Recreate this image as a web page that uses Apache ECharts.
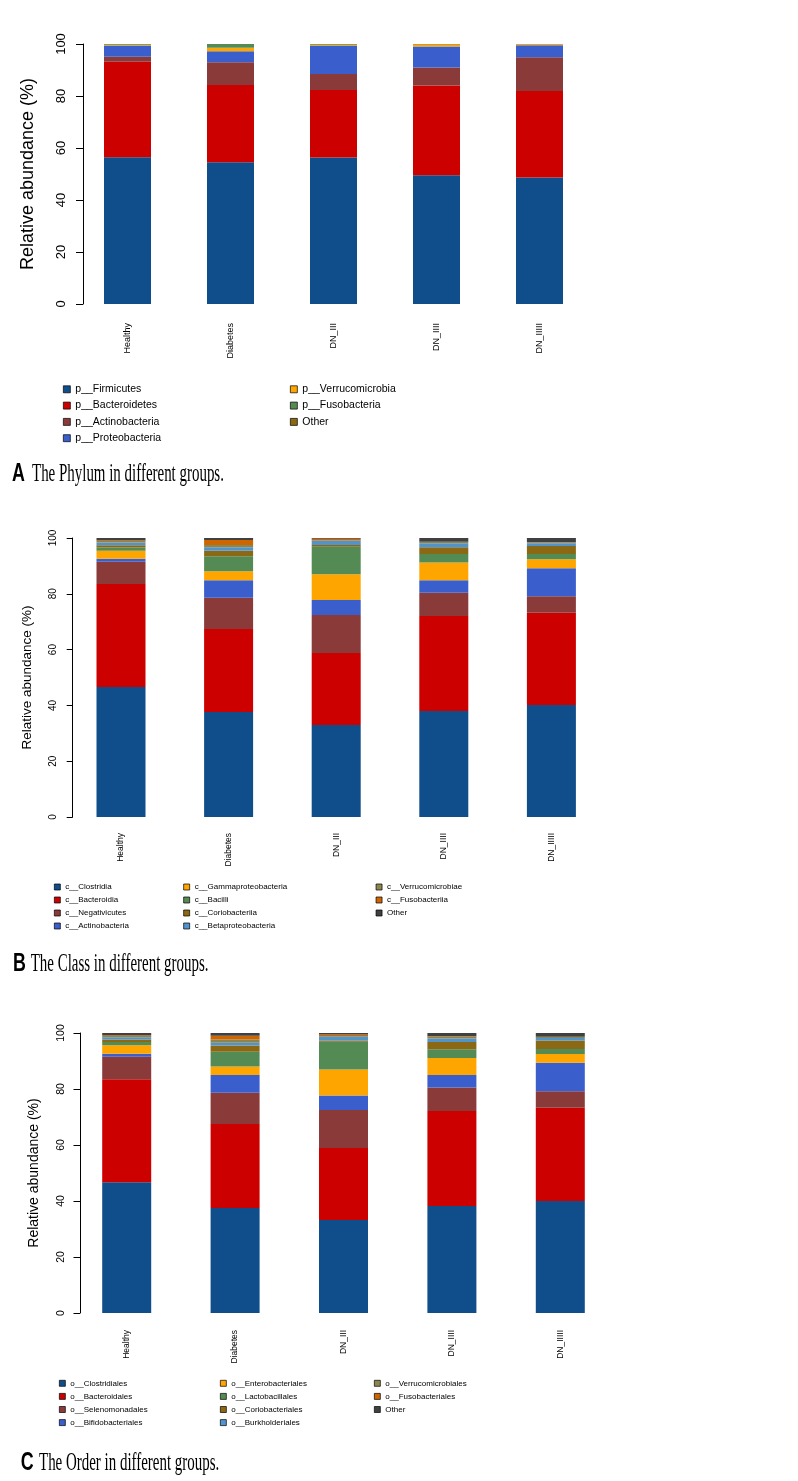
<!DOCTYPE html>
<html>
<head>
<meta charset="utf-8">
<script src="https://cdn.jsdelivr.net/npm/echarts@6/dist/echarts.min.js"></script>
<style>
html,body{margin:0;padding:0;background:#fff;}
#chart{width:798px;height:1481px;}
</style>
</head>
<body>
<div id="chart"></div>
<script>
// ---------- DATA ----------
const groups = ['Healthy', 'Diabetes', 'DN_III', 'DN_IIII', 'DN_IIIII'];
const yTicks = [0, 20, 40, 60, 80, 100];

// Panel A: Phylum
const phylumNames = ['p__Firmicutes', 'p__Bacteroidetes', 'p__Actinobacteria', 'p__Proteobacteria', 'p__Verrucomicrobia', 'p__Fusobacteria', 'Other'];
const pFirmicutes      = [56.4, 54.5, 56.3, 49.5, 48.7];
const pBacteroidetes   = [36.8, 29.7, 26.0, 34.5, 33.2];
const pActinobacteria  = [1.9, 8.8, 6.2, 7.0, 13.0];
const pProteobacteria  = [4.2, 4.2, 10.7, 8.0, 4.6];
const pVerrucomicrobia = [0.2, 1.4, 0.3, 0.8, 0.4];
const pFusobacteria    = [0.3, 1.4, 0.3, 0.0, 0.0];
const pOther           = [0.2, 0.0, 0.2, 0.2, 0.1];

// Panel B: Class
const classNames = ['c__Clostridia', 'c__Bacteroidia', 'c__Negativicutes', 'c__Actinobacteria', 'c__Gammaproteobacteria', 'c__Bacilli', 'c__Coriobacteriia', 'c__Betaproteobacteria', 'c__Verrucomicrobiae', 'c__Fusobacteriia', 'Other'];
const cClostridia        = [46.6, 37.6, 33.0, 38.0, 40.1];
const cBacteroidia       = [36.9, 29.8, 25.8, 34.0, 33.1];
const cNegativicutes     = [8.0, 11.2, 13.6, 8.4, 5.9];
const cActinobacteria    = [1.1, 6.3, 5.4, 4.5, 10.1];
const cGammaproteo       = [2.8, 3.2, 9.2, 6.3, 3.2];
const cBacilli           = [1.2, 5.4, 9.9, 3.1, 1.9];
const cCoriobacteriia    = [0.8, 1.9, 0.6, 2.4, 2.8];
const cBetaproteo        = [1.0, 1.3, 1.4, 1.4, 1.0];
const cVerrucomicrobiae  = [0.5, 0.8, 0.2, 0.5, 0.3];
const cFusobacteriia     = [0.3, 1.8, 0.6, 0.1, 0.1];
const cOther             = [0.8, 0.7, 0.3, 1.3, 1.5];

// Panel C: Order
const orderNames = ['o__Clostridiales', 'o__Bacteroidales', 'o__Selenomonadales', 'o__Bifidobacteriales', 'o__Enterobacteriales', 'o__Lactobacillales', 'o__Coriobacteriales', 'o__Burkholderiales', 'o__Verrucomicrobiales', 'o__Fusobacteriales', 'Other'];
const oClostridiales      = [46.7, 37.5, 33.2, 38.2, 40.0];
const oBacteroidales      = [36.8, 30.0, 25.7, 33.9, 33.3];
const oSelenomonadales    = [8.0, 11.2, 13.6, 8.4, 5.9];
const oBifidobacteriales  = [1.1, 6.3, 5.2, 4.5, 10.2];
const oEnterobacteriales  = [3.0, 3.0, 9.3, 6.1, 3.1];
const oLactobacillales    = [1.2, 5.3, 9.9, 3.1, 1.8];
const oCoriobacteriales   = [0.9, 2.2, 0.4, 2.6, 3.0];
const oBurkholderiales    = [0.8, 1.0, 1.4, 1.2, 0.9];
const oVerrucomicrobiales = [0.4, 1.2, 0.2, 0.7, 0.5];
const oFusobacteriales    = [0.3, 1.3, 0.6, 0.1, 0.0];
const oOther              = [0.8, 1.0, 0.5, 1.2, 1.3];

// ---------- STYLE ----------
const phylumColors = ['#104E8B', '#CD0000', '#8B3A3A', '#3A5FCD', '#FFA500', '#548B54', '#8B6914'];
const tenColors = ['#104E8B', '#CD0000', '#8B3A3A', '#3A5FCD', '#FFA500', '#548B54', '#8B6914', '#4F94CD', '#8B864E', '#CD6600', '#404040'];

const phylumData = [pFirmicutes, pBacteroidetes, pActinobacteria, pProteobacteria, pVerrucomicrobia, pFusobacteria, pOther];
const classData = [cClostridia, cBacteroidia, cNegativicutes, cActinobacteria, cGammaproteo, cBacilli, cCoriobacteriia, cBetaproteo, cVerrucomicrobiae, cFusobacteriia, cOther];
const orderData = [oClostridiales, oBacteroidales, oSelenomonadales, oBifidobacteriales, oEnterobacteriales, oLactobacillales, oCoriobacteriales, oBurkholderiales, oVerrucomicrobiales, oFusobacteriales, oOther];

// unique names per panel for "Other" (trailing spaces are invisible)
const uniq = (names, suffix) => names.map(n => n === 'Other' ? 'Other' + suffix : n);
const phylumSeriesNames = uniq(phylumNames, '');
const classSeriesNames = uniq(classNames, ' ');
const orderSeriesNames = uniq(orderNames, '  ');

const legendFont = "'Liberation Sans', Arial, Helvetica, sans-serif";
const axisFont = "'Liberation Sans', Arial, Helvetica, sans-serif";

const panels = [
  {names: phylumSeriesNames, data: phylumData, colors: phylumColors, grid: {left: 76, width: 515, top: 44, height: 260}, yOffset: -7, barWidth: 47,
   tickFs: 13, tickLen: 7, nameFs: 18, nameGap: 46, labelMargin: 15, xFs: 9, xMargin: 19},
  {names: classSeriesNames, data: classData, colors: tenColors, grid: {left: 67.2, width: 538, top: 538, height: 279}, yOffset: -5.5, barWidth: 49,
   tickFs: 10, tickLen: 6, nameFs: 13.5, nameGap: 38, labelMargin: 14, xFs: 8.5, xMargin: 16},
  {names: orderSeriesNames, data: orderData, colors: tenColors, grid: {left: 72.5, width: 542, top: 1033, height: 280}, yOffset: -7.5, barWidth: 49,
   tickFs: 10.5, tickLen: 6.5, nameFs: 14, nameGap: 39, labelMargin: 13, xFs: 8.5, xMargin: 17}
];

const grids = [], xAxes = [], yAxes = [], series = [];
panels.forEach((p, i) => {
  grids.push(Object.assign({containLabel: false}, p.grid));
  xAxes.push({
    type: 'category', gridIndex: i, data: groups,
    axisLine: {show: false}, axisTick: {show: false},
    axisLabel: {rotate: 90, fontSize: p.xFs, color: '#000', fontFamily: axisFont, margin: p.xMargin, interval: 0}
  });
  yAxes.push({
    type: 'value', gridIndex: i, min: yTicks[0], max: yTicks[yTicks.length - 1], interval: 20,
    offset: p.yOffset,
    name: 'Relative abundance (%)', nameLocation: 'middle', nameRotate: 90, nameGap: p.nameGap,
    nameTextStyle: {fontSize: p.nameFs, color: '#000', fontFamily: axisFont},
    axisLine: {show: true, lineStyle: {color: '#000', width: 1}},
    axisTick: {show: true, length: p.tickLen, lineStyle: {color: '#000', width: 1}},
    axisLabel: {rotate: 90, fontSize: p.tickFs, color: '#000', fontFamily: axisFont, margin: p.labelMargin},
    splitLine: {show: false}
  });
  p.names.forEach((n, k) => {
    series.push({
      name: n, type: 'bar', stack: 'panel' + i, xAxisIndex: i, yAxisIndex: i,
      barWidth: p.barWidth, data: p.data[k],
      itemStyle: {color: p.colors[k]},
      emphasis: {disabled: true}, animation: false
    });
  });
});

function mkLegend(data, left, top, size, fs, lh, gap) {
  return {
    data: data, left: left, top: top, orient: 'vertical', padding: 0,
    icon: 'rect', itemWidth: size, itemHeight: size, itemGap: gap,
    itemStyle: {borderColor: '#000', borderWidth: 0.7},
    textStyle: {fontSize: fs, fontFamily: legendFont, color: '#000', lineHeight: lh},
    selectedMode: false
  };
}

const legends = [
  mkLegend(phylumSeriesNames.slice(0, 4), 63, 382.3, 7, 10.5, 14, 2.3),
  mkLegend(phylumSeriesNames.slice(4), 290, 382.3, 7, 10.5, 14, 2.3),
  mkLegend(classSeriesNames.slice(0, 4), 54, 881.5, 6, 8, 11, 2),
  mkLegend(classSeriesNames.slice(4, 8), 183.3, 881.5, 6, 8, 11, 2),
  mkLegend(classSeriesNames.slice(8), 375.7, 881.5, 6, 8, 11, 2),
  mkLegend(orderSeriesNames.slice(0, 4), 59, 1377.8, 6, 8, 11, 2.1),
  mkLegend(orderSeriesNames.slice(4, 8), 220, 1377.8, 6, 8, 11, 2.1),
  mkLegend(orderSeriesNames.slice(8), 374, 1377.8, 6, 8, 11, 2.1)
];

// captions
const captions = [
  {letter: 'A', lx: 12, text: 'The Phylum in different groups.', tx: 32, base: 481.7},
  {letter: 'B', lx: 13, text: 'The Class in different groups.', tx: 30.7, base: 971.7},
  {letter: 'C', lx: 20.7, text: 'The Order in different groups.', tx: 39, base: 1470.7}
];
const graphics = [];
captions.forEach(c => {
  graphics.push({
    type: 'text', x: c.lx, y: c.base - 8, scaleX: 0.7,
    style: {text: c.letter, font: "bold 25.5px 'Liberation Sans', Arial, sans-serif", fill: '#000', verticalAlign: 'middle', align: 'left'}
  });
  graphics.push({
    type: 'text', x: c.tx, y: c.base - 7, scaleX: 0.61,
    style: {text: c.text, font: "24.5px 'Liberation Serif', 'Times New Roman', serif", fill: '#000', verticalAlign: 'middle', align: 'left'}
  });
});

const chart = echarts.init(document.getElementById('chart'), null, {renderer: 'canvas'});
chart.setOption({
  animation: false,
  backgroundColor: '#fff',
  grid: grids, xAxis: xAxes, yAxis: yAxes,
  legend: legends,
  series: series,
  graphic: graphics
});
</script>
</body>
</html>
